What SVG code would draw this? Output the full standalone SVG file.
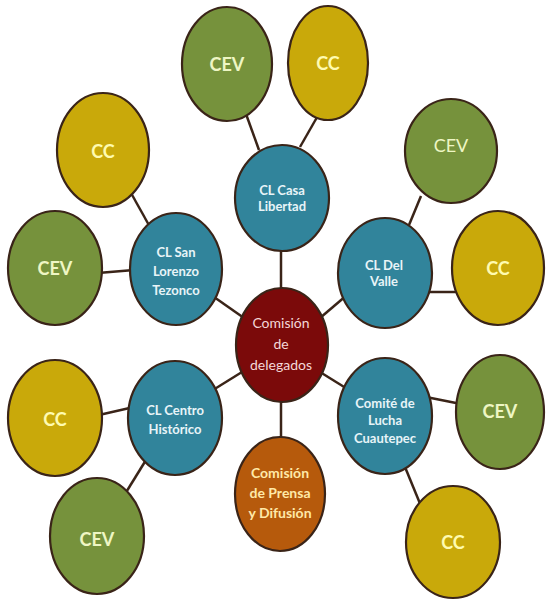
<svg xmlns="http://www.w3.org/2000/svg" width="546" height="601" viewBox="0 0 546 601">
<style>
.n{stroke:#3a2418;stroke-width:2.2}
.cev{fill:#76923c}
.cc{fill:#c9a90a}
.cl{fill:#31849b}
.del{fill:#7b0a0a}
.pr{fill:#b65a0c}
text{font-family:Lato,"Open Sans","Liberation Sans",sans-serif;text-anchor:middle}
.tcev{fill:#eef6c4;font-size:18px;font-weight:bold}
.tcc{fill:#fffbb0;font-size:18px;font-weight:bold}
.tcl{fill:#e8f4f8;font-size:13px;font-weight:bold}
.tdel{fill:#f4d8d8;font-size:14px}
.tpr{fill:#ffe9a8;font-size:14px;font-weight:bold}
#connectors line{stroke:#3a2418;stroke-width:2.5}
</style>
<rect width="546" height="601" fill="#ffffff"/>
<g id="connectors">
<line x1="246" y1="114" x2="259" y2="150"/>
<line x1="320" y1="112" x2="300" y2="147"/>
<line x1="281" y1="246" x2="281" y2="292"/>
<line x1="131" y1="193" x2="150" y2="227"/>
<line x1="98" y1="273" x2="134" y2="270"/>
<line x1="214" y1="297" x2="244" y2="318"/>
<line x1="347" y1="295" x2="320" y2="318"/>
<line x1="421" y1="196" x2="409" y2="225"/>
<line x1="428" y1="292" x2="459" y2="292"/>
<line x1="242" y1="372" x2="213" y2="390"/>
<line x1="320" y1="372" x2="349" y2="390"/>
<line x1="281" y1="398" x2="281" y2="441"/>
<line x1="99" y1="415" x2="134" y2="407"/>
<line x1="146" y1="460" x2="125" y2="494"/>
<line x1="426" y1="397" x2="461" y2="404"/>
<line x1="405" y1="467" x2="421" y2="506"/>
</g>
<g id="cev-top"><ellipse class="n cev" cx="227" cy="64" rx="45" ry="57"/><text class="tcev" x="227" y="71">CEV</text></g>
<g id="cc-top"><ellipse class="n cc" cx="328" cy="63" rx="40" ry="57"/><text class="tcc" x="328" y="70">CC</text></g>
<g id="cl-casa"><ellipse class="n cl" cx="282" cy="198" rx="47" ry="53"/><text class="tcl" x="282" y="195">CL Casa</text><text class="tcl" x="282" y="211">Libertad</text></g>
<g id="cc-left"><ellipse class="n cc" cx="103" cy="150" rx="46" ry="57"/><text class="tcc" x="103" y="158">CC</text></g>
<g id="cev-left"><ellipse class="n cev" cx="55" cy="268" rx="47" ry="57"/><text class="tcev" x="55" y="275">CEV</text></g>
<g id="cl-sanlorenzo"><ellipse class="n cl" cx="176" cy="269" rx="46" ry="56"/><text class="tcl" x="176" y="257">CL San</text><text class="tcl" x="176" y="276">Lorenzo</text><text class="tcl" x="176" y="295">Tezonco</text></g>
<g id="cev-right"><ellipse class="n cev" cx="451" cy="151" rx="46" ry="52"/><text class="tcev" x="451" y="152" style="font-weight:normal">CEV</text></g>
<g id="cl-delvalle"><ellipse class="n cl" cx="385" cy="273" rx="47" ry="55"/><text class="tcl" x="384" y="270">CL Del</text><text class="tcl" x="384" y="286">Valle</text></g>
<g id="cc-right"><ellipse class="n cc" cx="498" cy="268" rx="46" ry="57"/><text class="tcc" x="498" y="275">CC</text></g>
<g id="comision-delegados"><ellipse class="n del" cx="282" cy="345" rx="46" ry="57"/><text class="tdel" x="281" y="328">Comisión</text><text class="tdel" x="281" y="349">de</text><text class="tdel" x="281" y="370">delegados</text></g>
<g id="comision-prensa"><ellipse class="n pr" cx="280" cy="494" rx="45" ry="57"/><text class="tpr" x="280" y="478">Comisión</text><text class="tpr" x="280" y="498">de Prensa</text><text class="tpr" x="280" y="518">y Difusión</text></g>
<g id="cc-lowerleft"><ellipse class="n cc" cx="55" cy="418" rx="47" ry="58"/><text class="tcc" x="55" y="426">CC</text></g>
<g id="cl-centro"><ellipse class="n cl" cx="175" cy="418" rx="47" ry="57"/><text class="tcl" x="175" y="415">CL Centro</text><text class="tcl" x="175" y="434">Histórico</text></g>
<g id="cev-lowerleft"><ellipse class="n cev" cx="97" cy="536" rx="47" ry="58"/><text class="tcev" x="97" y="546">CEV</text></g>
<g id="comite-lucha"><ellipse class="n cl" cx="385" cy="416" rx="47" ry="58"/><text class="tcl" x="385" y="408">Comité de</text><text class="tcl" x="385" y="425">Lucha</text><text class="tcl" x="385" y="443">Cuautepec</text></g>
<g id="cev-lowerright"><ellipse class="n cev" cx="500" cy="412" rx="44" ry="57"/><text class="tcev" x="500" y="418">CEV</text></g>
<g id="cc-lowerright"><ellipse class="n cc" cx="453" cy="542" rx="47" ry="56"/><text class="tcc" x="453" y="549">CC</text></g>
</svg>
